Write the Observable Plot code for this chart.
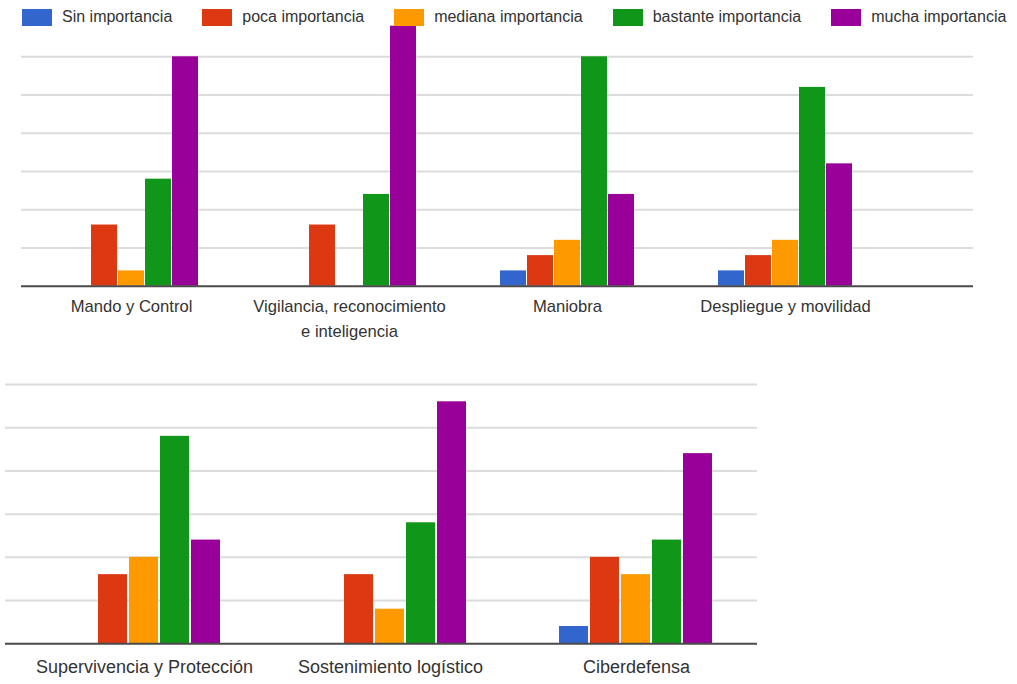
<!DOCTYPE html>
<html><head><meta charset="utf-8">
<script src="https://cdn.jsdelivr.net/npm/d3@7"></script>
<script src="https://cdn.jsdelivr.net/npm/@observablehq/plot@0.6"></script>
<style>
body{margin:0;background:#fff;font-family:"Liberation Sans",Arial,sans-serif;}
#wrap{position:relative;width:1017px;height:684px;overflow:hidden;background:#fff;}
#legend{position:absolute;left:22px;top:8px;display:flex;align-items:center;font-size:16px;color:#333;white-space:nowrap;}
.item{display:flex;align-items:center;margin-right:30px}
.sw{width:30px;height:17px;margin-right:10px}
.panel{position:absolute;left:0;width:1017px}
.panel svg{position:absolute;left:0;top:0}
#top{top:0;height:345px}
#bottom{top:360px;height:324px}
</style></head><body>
<div id="wrap"><div id="top" class="panel"></div><div id="bottom" class="panel"></div><div id="legend"></div></div>
<script>
const series = ["Sin importancia","poca importancia","mediana importancia","bastante importancia","mucha importancia"];
const colors = ["#3366cc","#dc3912","#ff9900","#109618","#990099"];

const topCategories = ["Mando y Control","Vigilancia, reconocimiento\ne inteligencia","Maniobra","Despliegue y movilidad"];
const mandoControl = [0,4,1,7,15];
const vigilancia   = [0,4,0,6,17];
const maniobra     = [1,2,3,15,6];
const despliegue   = [1,2,3,13,8];

const bottomCategories = ["Supervivencia y Protección","Sostenimiento logístico","Ciberdefensa"];
const supervivencia = [0,4,5,12,6];
const sostenimiento = [0,4,2,7,14];
const ciberdefensa  = [1,5,4,6,11];

const gridTicks = [2.5,5,7.5,10,12.5,15];

function base(o) {
  return {
    width:1017, height:o.height,
    marginLeft:o.ml, marginRight:o.mr, marginTop:0, marginBottom:o.mb,
    style:{background:"transparent", fontFamily:"'Liberation Sans', Arial, sans-serif", overflow:"visible"},
    y:{domain:[0,15], range:o.yRange, axis:null}
  };
}

function rules(values, stroke, o) {
  return Plot.plot({...base(o), marks:[Plot.ruleY(values, {stroke, strokeWidth:2})]});
}

function bars(cats, valuesList, o) {
  const rows = cats.flatMap((c,i) => series.map((s,j) => ({category:c, series:s, value:valuesList[i][j]})));
  return Plot.plot({
    ...base(o),
    fx:{domain:cats, range:o.fxRange, paddingInner:0.374, paddingOuter:0.187, label:null},
    x:{domain:series, paddingInner:0.05, paddingOuter:0, axis:null},
    color:{domain:series, range:colors},
    marks:[
      Plot.barY(rows, {fx:"category", x:"series", y:"value", fill:"series"}),
      Plot.axisFx({anchor:"bottom", tickSize:0, tickPadding:o.pad, fontSize:o.fs, fill:"#333", lineHeight:o.lh, label:null})
    ]
  });
}

function panel(id, cats, valuesList, o) {
  const el = document.getElementById(id);
  el.append(rules(gridTicks, "#dcdcdc", o), bars(cats, valuesList, o), rules([0], "#4a4a4a", o));
}

panel("top", topCategories, [mandoControl, vigilancia, maniobra, despliegue], {
  height:345, ml:21, mr:44, mb:59.3, fxRange:[21.4, 894.2], yRange:[285.7, 56.3], pad:8.5, fs:16.6, lh:1.5
});
panel("bottom", bottomCategories, [supervivencia, sostenimiento, ciberdefensa], {
  height:324, ml:5, mr:260, mb:40.7, fxRange:[21, 759], yRange:[283.3, 24], pad:13, fs:18, lh:1.3
});

const legend = document.getElementById("legend");
series.forEach((s,i) => {
  const item = document.createElement("div");
  item.className = "item";
  const sw = document.createElement("span");
  sw.className = "sw";
  sw.style.background = colors[i];
  const t = document.createElement("span");
  t.textContent = s;
  item.append(sw, t);
  legend.append(item);
});
</script>
</body></html>
